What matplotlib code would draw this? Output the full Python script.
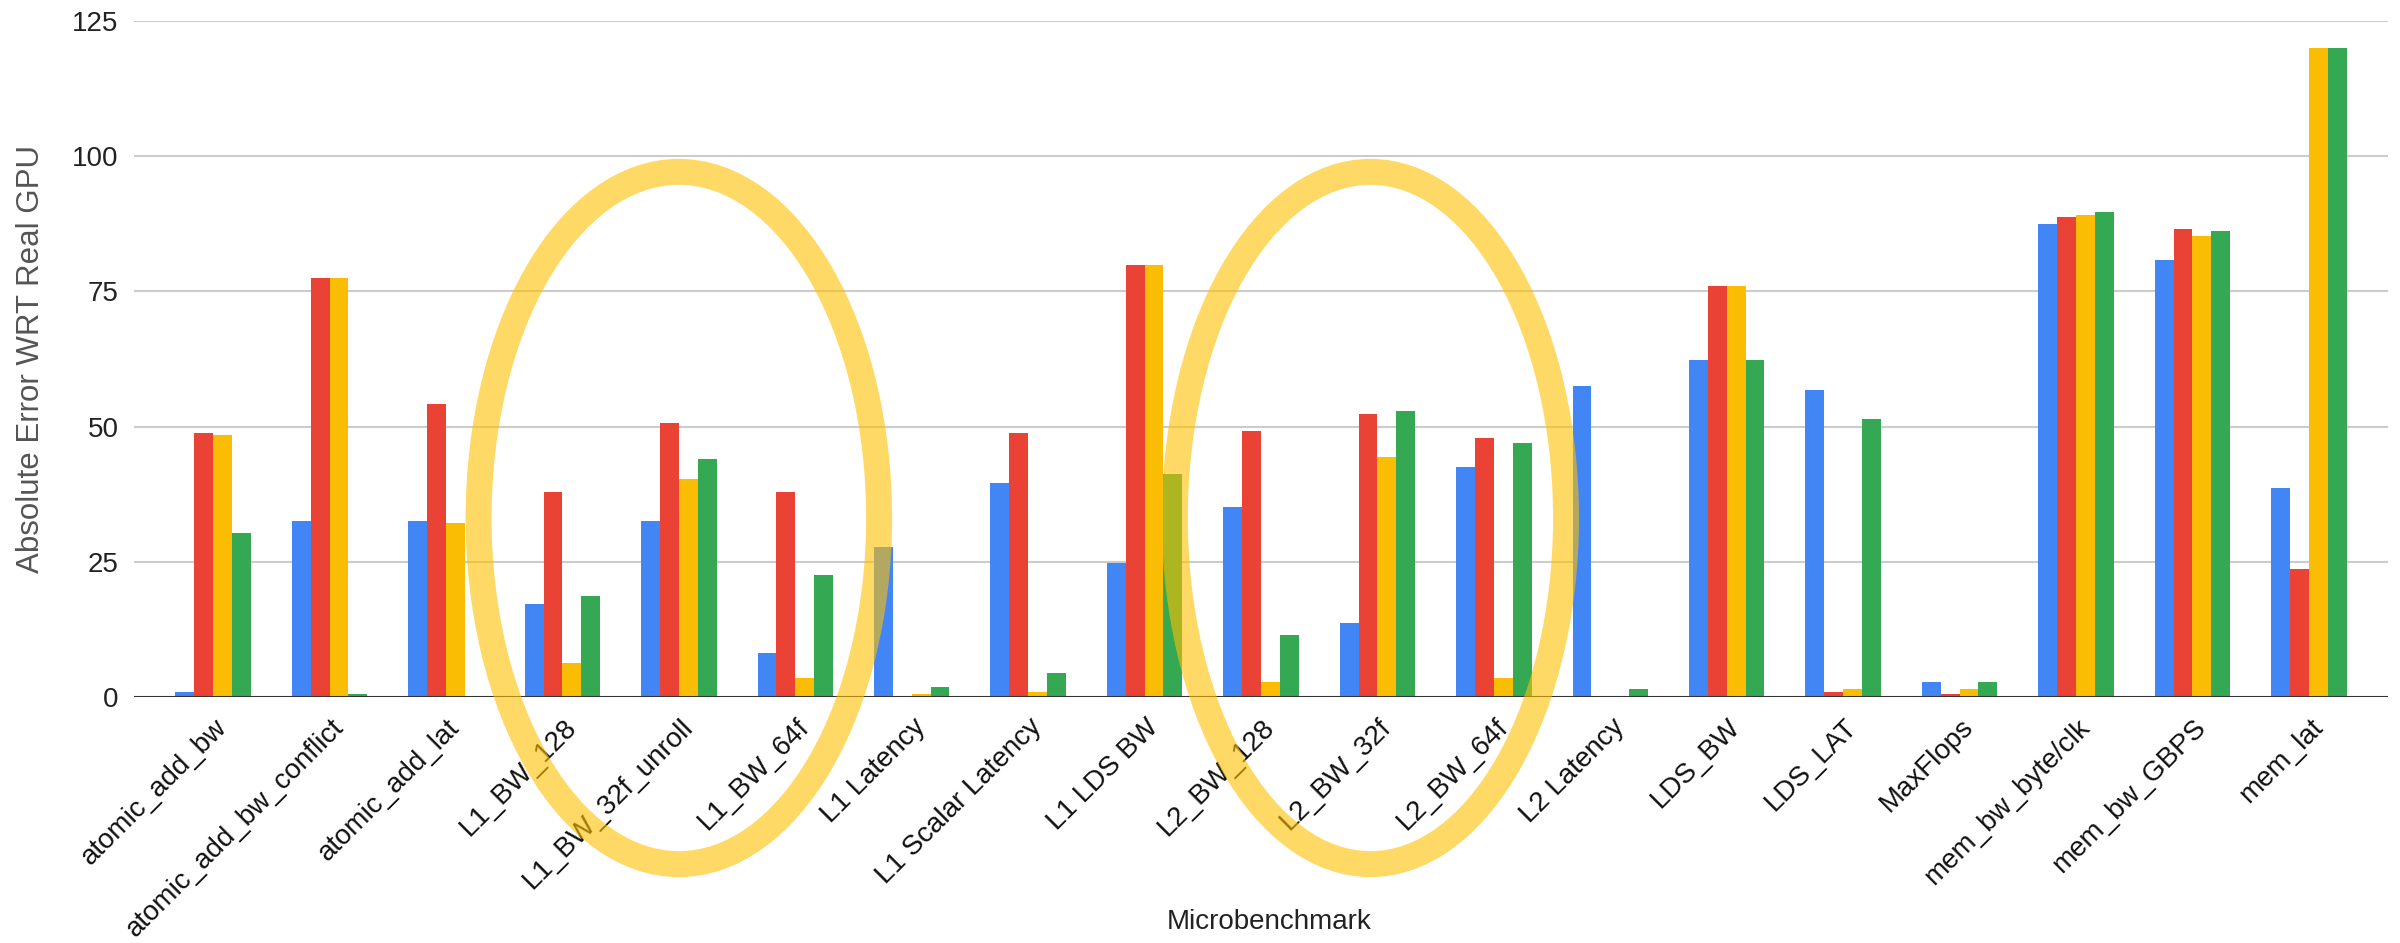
import matplotlib
matplotlib.use("Agg")
import matplotlib.pyplot as plt
import numpy as np
from matplotlib.patches import Ellipse
from matplotlib.transforms import ScaledTranslation

plt.rcParams['font.family'] = ['Liberation Sans', 'DejaVu Sans']

categories = [
    "atomic_add_bw", "atomic_add_bw_conflict", "atomic_add_lat", "L1_BW_128",
    "L1_BW_32f_unroll", "L1_BW_64f", "L1 Latency", "L1 Scalar Latency",
    "L1 LDS BW", "L2_BW_128", "L2_BW_32f", "L2_BW_64f", "L2 Latency",
    "LDS_BW", "LDS_LAT", "MaxFlops", "mem_bw_byte/clk", "mem_bw_GBPS", "mem_lat",
]

series_blue = [1.0, 32.5, 32.5, 17.2, 32.5, 8.1, 27.7, 39.6, 24.7, 35.2,
               13.6, 42.5, 57.5, 62.4, 56.7, 2.7, 87.4, 80.8, 38.7]
series_red = [48.8, 77.4, 54.1, 37.9, 50.6, 37.9, 0.0, 48.8, 79.9, 49.2,
              52.3, 47.9, 0.0, 76.0, 1.0, 0.6, 88.8, 86.6, 23.7]
series_yellow = [48.4, 77.4, 32.1, 6.2, 40.4, 3.6, 0.6, 1.0, 79.9, 2.7,
                 44.4, 3.6, 0.0, 76.0, 1.4, 1.4, 89.2, 85.3, 120.0]
series_green = [30.3, 0.6, 0.0, 18.6, 44.0, 22.5, 1.9, 4.5, 41.3, 11.4,
                52.8, 47.0, 1.4, 62.4, 51.4, 2.7, 89.7, 86.1, 120.0]

y_ticks = [0, 25, 50, 75, 100, 125]

colors = ["#4285F4", "#EA4335", "#FBBC04", "#34A853"]
series = [series_blue, series_red, series_yellow, series_green]

fig = plt.figure(figsize=(24, 9.43), dpi=100)
ax = fig.add_axes([134 / 2400, 1 - 697 / 943, 2254 / 2400, 676 / 943])

x = np.arange(len(categories))
bar_w = 0.162
for i, (vals, c) in enumerate(zip(series, colors)):
    ax.bar(x + (i - 1.5) * bar_w, vals, width=bar_w, color=c, zorder=3,
           linewidth=0)

ax.set_xlim(-0.68, 18.68)
ax.set_ylim(0, 125)
ax.set_yticks(y_ticks)
ax.set_yticklabels([str(t) for t in y_ticks])
ax.yaxis.grid(True, color="#cccccc", linewidth=1.5, zorder=0)
ax.set_axisbelow(True)
ax.axhline(0, color="#333333", linewidth=2.2, zorder=4)

for s in ax.spines.values():
    s.set_visible(False)

ax.tick_params(axis="y", length=0, pad=11, labelsize=20, labelcolor="#222222")
ax.tick_params(axis="x", length=0, pad=19, labelsize=20, labelcolor="#111111")
ax.set_xticks(x)
ax.set_xticklabels(categories, rotation=45, ha="right", va="center",
                   rotation_mode="anchor")
shift = ScaledTranslation(0.1, 0, fig.dpi_scale_trans)
for lab in ax.get_xticklabels():
    lab.set_transform(lab.get_transform() + shift)

ax.set_ylabel("Absolute Error WRT Real GPU", fontsize=22.5, color="#555555",
              va="center")
ax.yaxis.set_label_coords(-0.0457, 0.5)
ax.set_xlabel("Microbenchmark", fontsize=20, color="#222222", va="baseline")
ax.xaxis.set_label_coords(0.5035, -0.343)

# highlight rings around the L1 and L2 bandwidth groups
ring_color = (1.0, 0.753, 0.0, 0.6)
for cx, w in [(4.0, 3.44), (9.94, 3.36)]:
    ax.add_patch(Ellipse((cx, 33.1), w, 128.0, fill=False,
                         edgecolor=ring_color, linewidth=18.7,
                         clip_on=False, zorder=10))

fig.savefig("out.png", dpi=100, facecolor="white")
